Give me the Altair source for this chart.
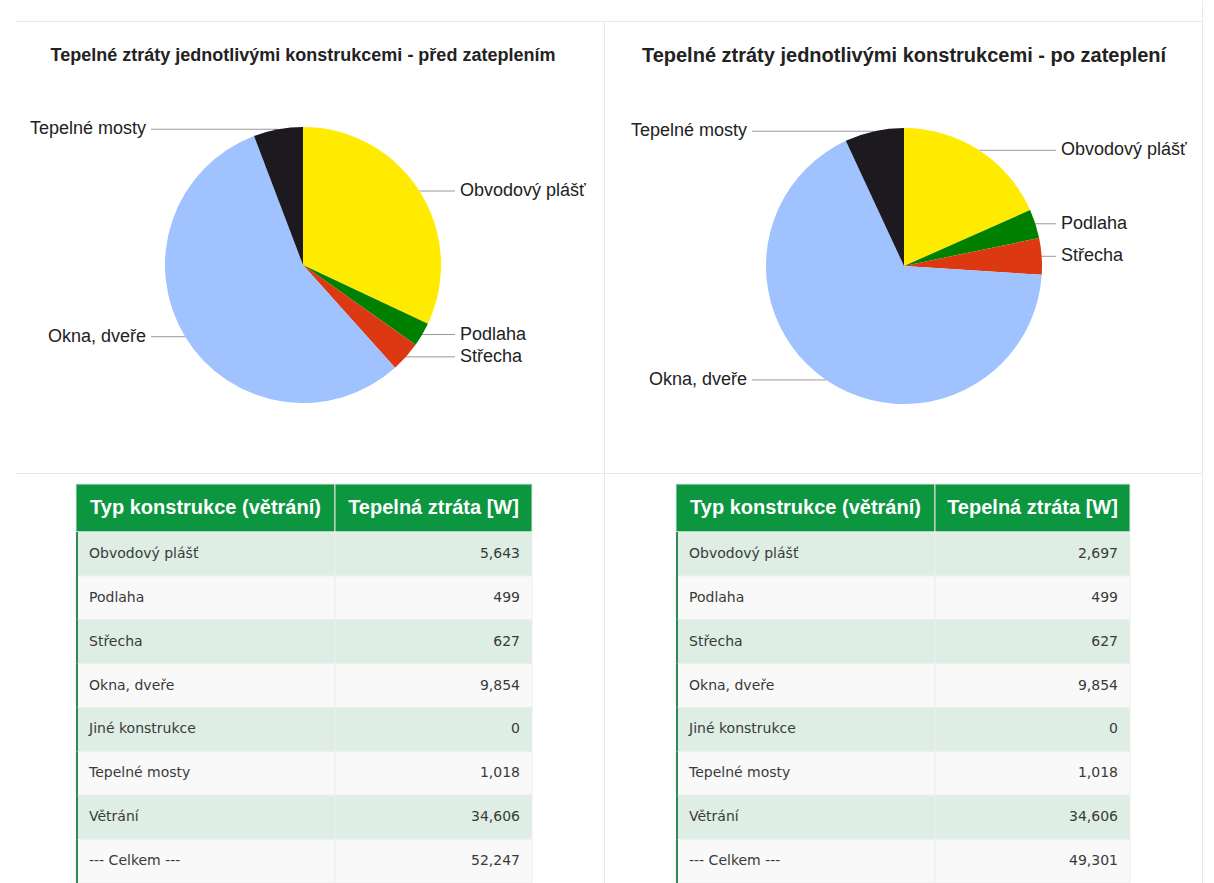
import altair as alt
import pandas as pd

# ---------------- data ----------------
typy = ["Obvodový plášť", "Podlaha", "Střecha", "Okna, dveře",
        "Jiné konstrukce", "Tepelné mosty", "Větrání", "--- Celkem ---"]
ztraty_pred = [5643, 499, 627, 9854, 0, 1018, 34606, 52247]
ztraty_po = [2697, 499, 627, 9854, 0, 1018, 34606, 49301]

konstrukce_v_grafu = ["Obvodový plášť", "Podlaha", "Střecha", "Okna, dveře",
                      "Jiné konstrukce", "Tepelné mosty"]
barvy_vysecí = ["#FFEB00", "#008000", "#DC3912", "#A0C2FF", "#9E9E9E", "#1C1A1F"]

nadpis_pred = "Tepelné ztráty jednotlivými konstrukcemi - před zateplením"
nadpis_po = "Tepelné ztráty jednotlivými konstrukcemi - po zateplení"
hlavicka = ["Typ konstrukce (větrání)", "Tepelná ztráta [W]"]

# ---------------- styles ----------------
FONT = "Liberation Sans"
BODY_FONT = "DejaVu Sans"
GRID = "#E8E8EE"
HDR_GREEN = "#0C9640"
ROW_GREEN = "#DEEEE4"
ROW_WHITE = "#F9F9F9"
BORDER_GREEN = "#2F8A55"

one = pd.DataFrame({"k": [0]})


def hrule(x1, x2, y):
    return alt.Chart(one).mark_rule(color=GRID, strokeWidth=1).encode(
        x=alt.value(x1), x2=alt.value(x2), y=alt.value(y))


def vrule(x, y1, y2):
    return alt.Chart(one).mark_rule(color=GRID, strokeWidth=1).encode(
        x=alt.value(x), y=alt.value(y1), y2=alt.value(y2))


def pie_panel(hodnoty, nadpis, W, H, cx, cy, r, title_size, rules):
    df = pd.DataFrame({"typ": typy, "hodnota": hodnoty,
                       "poradi": list(range(len(typy)))})
    df = df[df["typ"].isin(konstrukce_v_grafu)]
    base = alt.Chart(df).transform_filter("datum.hodnota > 0")

    arcs = base.mark_arc(radius=r).encode(
        theta=alt.Theta("hodnota:Q", stack=True),
        order=alt.Order("poradi:Q", sort="ascending"),
        color=alt.Color("typ:N", scale=alt.Scale(domain=konstrukce_v_grafu,
                                                 range=barvy_vysecí), legend=None),
        x=alt.value(cx), y=alt.value(cy))

    geo = (base
           .transform_joinaggregate(celkem="sum(hodnota)")
           .transform_window(kum="sum(hodnota)",
                             sort=[alt.SortField("poradi", order="ascending")],
                             frame=[None, 0])
           .transform_calculate(stred="(datum.kum - datum.hodnota / 2) / datum.celkem * 2 * PI")
           .transform_calculate(vpravo="sin(datum.stred) >= 0")
           .transform_calculate(ly=f"{cy} - {r} * cos(datum.stred)")
           .transform_calculate(ax=f"{cx} + {r} * sin(datum.stred)")
           .transform_calculate(ex=f"datum.vpravo ? {cx + r + 14} : {cx - r - 14}")
           .transform_calculate(lx=f"datum.vpravo ? {cx + r + 19} : {cx - r - 19}"))

    lines = geo.mark_rule(color="#9A9A9A", strokeWidth=1).encode(
        x=alt.X("ax:Q", scale=None), x2="ex:Q", y=alt.Y("ly:Q", scale=None))
    lab_r = geo.transform_filter("datum.vpravo").mark_text(
        align="left", baseline="middle", font=FONT, fontSize=18, color="#222222").encode(
        x=alt.X("lx:Q", scale=None), y=alt.Y("ly:Q", scale=None), text="typ:N")
    lab_l = geo.transform_filter("!datum.vpravo").mark_text(
        align="right", baseline="middle", font=FONT, fontSize=18, color="#222222").encode(
        x=alt.X("lx:Q", scale=None), y=alt.Y("ly:Q", scale=None), text="typ:N")

    title = alt.Chart(one).mark_text(
        align="center", baseline="middle", font=FONT, fontSize=title_size,
        fontWeight="bold", color="#222222").encode(
        x=alt.value(cx), y=alt.value(55), text=alt.value(nadpis))

    return alt.layer(*rules, lines, arcs, lab_r, lab_l, title).properties(
        width=W, height=H)


def header_panel(W, x0, xm, x1, rules):
    c1 = alt.Chart(one).mark_rect(fill=HDR_GREEN, stroke="#E4E4E4", strokeWidth=1).encode(
        x=alt.value(x0), x2=alt.value(xm), y=alt.value(10), y2=alt.value(58))
    c2 = alt.Chart(one).mark_rect(fill=HDR_GREEN, stroke="#E4E4E4", strokeWidth=1).encode(
        x=alt.value(xm), x2=alt.value(x1), y=alt.value(10), y2=alt.value(58))
    t1 = alt.Chart(one).mark_text(font=FONT, fontSize=20, fontWeight="bold", color="white",
                                  align="center", baseline="middle").encode(
        x=alt.value((x0 + xm) / 2), y=alt.value(34), text=alt.value(hlavicka[0]))
    t2 = alt.Chart(one).mark_text(font=FONT, fontSize=20, fontWeight="bold", color="white",
                                  align="center", baseline="middle").encode(
        x=alt.value((xm + x1) / 2), y=alt.value(34), text=alt.value(hlavicka[1]))
    return alt.layer(*rules, c1, c2, t1, t2).properties(width=W, height=58)


def body_panel(hodnoty, W, H, x0, xm, x1, rules):
    df = pd.DataFrame({"typ": typy, "hodnota": hodnoty,
                       "poradi": list(range(len(typy)))})
    base = alt.Chart(df).transform_calculate(pruh="datum.poradi % 2")
    yb = alt.Y("typ:N", sort=typy, axis=None,
               scale=alt.Scale(paddingInner=0, paddingOuter=0))
    fill = alt.Fill("pruh:N", scale=alt.Scale(domain=[0, 1], range=[ROW_GREEN, ROW_WHITE]),
                    legend=None)
    cell1 = base.mark_rect(stroke="#EDEDED", strokeWidth=1).encode(
        x=alt.value(x0), x2=alt.value(xm), y=yb, fill=fill)
    cell2 = base.mark_rect(stroke="#EDEDED", strokeWidth=1).encode(
        x=alt.value(xm), x2=alt.value(x1), y=yb, fill=fill)
    border = base.mark_rect(fill=BORDER_GREEN).encode(
        x=alt.value(x0), x2=alt.value(x0 + 2), y=yb)
    txt1 = base.mark_text(font=BODY_FONT, fontSize=14, color="#3A3A3A",
                          align="left", baseline="middle").encode(
        x=alt.value(x0 + 13), y=yb, text="typ:N")
    txt2 = base.mark_text(font=BODY_FONT, fontSize=14, color="#3A3A3A",
                          align="right", baseline="middle").encode(
        x=alt.value(x1 - 12), y=yb, text=alt.Text("hodnota:Q", format=",d"))
    return alt.layer(*rules, cell1, cell2, border, txt1, txt2).properties(width=W, height=H)


WL, WR = 604, 610
H_PIE, H_HDR, H_BODY = 473, 58, 351

pie_l = pie_panel(ztraty_pred, nadpis_pred, WL, H_PIE, 303, 264, 138, 18,
                  [hrule(15, WL, 20.5), hrule(15, WL, 472.5)])
pie_r = pie_panel(ztraty_po, nadpis_po, WR, H_PIE, 300, 265, 138, 20,
                  [hrule(0, 598.5, 20.5), hrule(0, 598.5, 472.5),
                   vrule(0.5, 20, H_PIE), vrule(598.5, 0, H_PIE)])

hdr_l = header_panel(WL, 76, 335, 532, [])
hdr_r = header_panel(WR, 72, 331, 526, [vrule(0.5, 0, H_HDR), vrule(598.5, 0, H_HDR)])

body_l = body_panel(ztraty_pred, WL, H_BODY, 76, 335, 532, [])
body_r = body_panel(ztraty_po, WR, H_BODY, 72, 331, 526,
                    [vrule(0.5, 0, H_BODY), vrule(598.5, 0, H_BODY)])

chart = (alt.concat(pie_l, pie_r, hdr_l, hdr_r, body_l, body_r,
                    columns=2, spacing=0, bounds="flush")
         .properties(padding=0, background="white")
         .configure_view(stroke=None))

chart.save("out.html", embed_options={"renderer": "svg", "actions": False})
